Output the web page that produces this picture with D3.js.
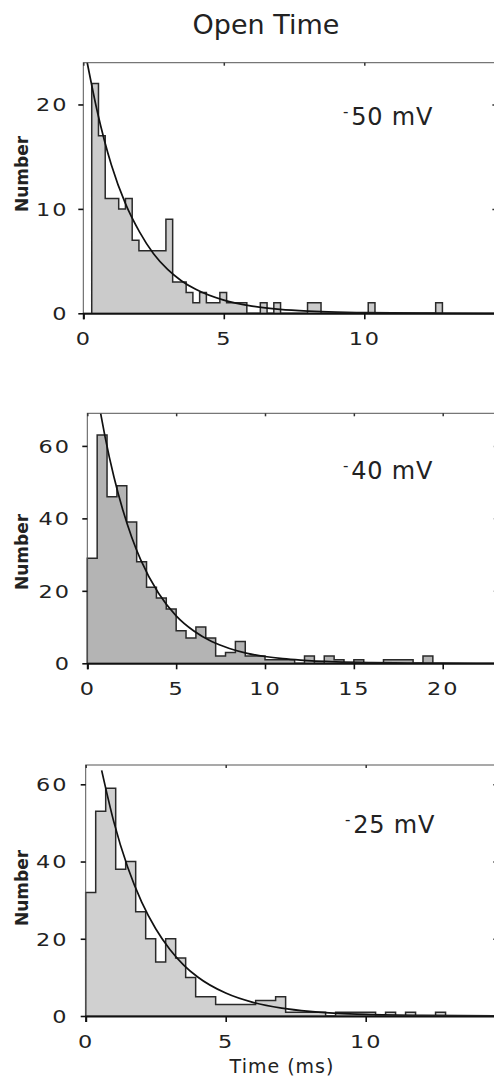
<!DOCTYPE html>
<html><head><meta charset="utf-8">
<script src="https://cdn.jsdelivr.net/npm/d3@7"></script>
<style>body{margin:0;background:#fff}svg{display:block}</style>
</head><body>
<svg id="chart" width="494" height="1078"></svg>
<script>
// ---------------- data ----------------
const titleText = "Open Time";
const yLabel = "Number";
const xLabel = "Time (ms)";
const voltageLabels = ["50 mV", "40 mV", "25 mV"];

// -50 mV histogram (counts per bin)
const binStart50 = 0.30;
const binWidth50 = 0.24;
const counts50 = [22,17,11,11,10,11,7,6,6,6,6,9,3,3,2,1,2,1,1,2,1,1,1,0,0,1,0,1,0,0,0,0,1,1,0,0,0,0,0,0,0,1,0,0,0,0,0,0,0,0,0,1];
const fitT50 = [0.14,0.5,1.0,1.5,2.0,2.5,3.0,3.5,4.0,5.0,6.0,7.0,8.0,9.0,10.0,12.0,14.7];
const fitN50 = [24.0,19.3,14.2,10.5,7.8,5.7,4.2,3.1,2.3,1.26,0.69,0.38,0.21,0.11,0.06,0.02,0.0];
const xTicks50 = [0,5,10];
const yTicks50 = [0,10,20];
const xMax50 = 14.7, yMax50 = 24;

// -40 mV histogram
const binStart40 = 0;
const binWidth40 = 0.5556;
const counts40 = [29,63,46,49,39,28,21,18,15,9,7,10,7,2,3,6,2,2,1,1,1,0,2,0,2,1,0,1,0,0,1,1,1,0,2];
const fitT40 = [0.75,1.0,1.5,2.0,2.5,3.0,4.0,5.0,6.0,7.0,8.0,9.0,10.0,11.0,12.0,14.0,16.0,18.0,20.0,23.0];
const fitN40 = [69,62.5,51.4,42.3,34.8,28.6,19.4,13.1,8.9,6.0,4.1,2.76,1.87,1.27,0.86,0.39,0.18,0.08,0.04,0.01];
const xTicks40 = [0,5,10,15,20];
const yTicks40 = [0,20,40,60];
const xMax40 = 23.1, yMax40 = 69;

// -25 mV histogram
const binStart25 = 0;
const binWidth25 = 0.357;
const counts25 = [32,53,59,38,40,27,20,14,20,15,10,5,5,3,3,3,3,4,4,5,1,1,1,1,0,1,1,1,1,0,1,0,1,0,0,1];
const fitT25 = [0.57,1.0,1.5,2.0,2.5,3.0,3.5,4.0,5.0,6.0,7.0,8.0,9.0,10.0,12.0,14.7];
const fitN25 = [63.6,50.4,38.5,29.5,22.6,17.3,13.2,10.1,5.93,3.47,2.03,1.19,0.70,0.41,0.14,0.03];
const xTicks25 = [0,5,10];
const yTicks25 = [0,20,40,60];
const xMax25 = 14.7, yMax25 = 65;

// ---------------- drawing ----------------
const svg = d3.select("#chart");
const FONT = "'DejaVu Sans', Verdana, sans-serif";
const SX = 1.28; // horizontal stretch for the plotter-like digits

svg.append("text")
  .attr("x", 266).attr("y", 34)
  .attr("text-anchor", "middle")
  .attr("font-family", FONT).attr("font-size", 27)
  .attr("fill", "#222")
  .text(titleText);

function drawPanel(p) {
  const x = d3.scaleLinear().domain([0, p.xMax]).range([p.left, p.right]);
  const y = d3.scaleLinear().domain([0, p.yMax]).range([p.bottom, p.top]);
  const g = svg.append("g");

  // histogram
  const pts = p.counts.map((c, i) => [p.binStart + i * p.binWidth, c]);
  const end = p.binStart + p.counts.length * p.binWidth;
  const areaPts = pts.concat([[end, p.counts[p.counts.length - 1]]]);
  g.append("path")
    .attr("d", d3.area().x(d => x(d[0])).y0(y(0)).y1(d => y(d[1])).curve(d3.curveStepAfter)(areaPts))
    .attr("fill", p.fill);
  const linePts = [[p.binStart, 0]].concat(pts).concat([[end, 0]]);
  g.append("path")
    .attr("d", d3.line().x(d => x(d[0])).y(d => y(d[1])).curve(d3.curveStepAfter)(linePts))
    .attr("fill", "none").attr("stroke", "#2a2a2a").attr("stroke-width", 1.5);

  // fit curve
  const fit = p.fitT.map((t, i) => [t, p.fitN[i]]);
  g.append("path")
    .attr("d", d3.line().x(d => x(d[0])).y(d => y(d[1])).curve(d3.curveMonotoneX)(fit))
    .attr("fill", "none").attr("stroke", "#111").attr("stroke-width", 1.7);

  // frame
  g.append("rect")
    .attr("x", p.left).attr("y", p.top)
    .attr("width", p.right - p.left).attr("height", p.bottom - p.top)
    .attr("fill", "none").attr("stroke", "#555").attr("stroke-width", 1);

  // bottom axis
  const bx = g.append("g").attr("transform", `translate(0,${p.bottom})`)
    .call(d3.axisBottom(x).tickValues(p.xTicks).tickSize(6).tickFormat(d3.format("d")));
  bx.select(".domain").attr("stroke", "#111").attr("stroke-width", 2);
  bx.selectAll(".tick line").attr("stroke", "#111").attr("stroke-width", 1.6);
  bx.selectAll(".tick text")
    .attr("font-family", FONT).attr("font-size", 17.5).attr("fill", "#222")
    .attr("letter-spacing", 1.5)
    .attr("y", 0).attr("dy", 0)
    .attr("transform", `translate(0,${p.xLabelOffset}) scale(${SX},1)`);

  // top axis (inward ticks)
  const tx = g.append("g").attr("transform", `translate(0,${p.top})`)
    .call(d3.axisTop(x).tickValues(p.xTicks).tickSize(-3).tickFormat(""));
  tx.select(".domain").remove();
  tx.selectAll(".tick line").attr("stroke", "#333").attr("stroke-width", 1.5);

  // left axis
  const ly = g.append("g").attr("transform", `translate(${p.left},0)`)
    .call(d3.axisLeft(y).tickValues(p.yTicks).tickSize(5).tickFormat(d3.format("d")));
  ly.select(".domain").remove();
  ly.selectAll(".tick line").attr("stroke", "#111").attr("stroke-width", 1.6);
  ly.selectAll(".tick text")
    .attr("font-family", FONT).attr("font-size", 17.5).attr("fill", "#222")
    .attr("letter-spacing", 1.5)
    .attr("x", -p.yLabelGap / SX).attr("dy", "0.36em")
    .attr("transform", `scale(${SX},1)`);

  // right axis (inward ticks)
  const ry = g.append("g").attr("transform", `translate(${p.right},0)`)
    .call(d3.axisRight(y).tickValues(p.yTicks.filter(v => v > 0)).tickSize(-4).tickFormat(""));
  ry.select(".domain").remove();
  ry.selectAll(".tick line").attr("stroke", "#333").attr("stroke-width", 1.5);

  // y label
  svg.append("text")
    .attr("transform", `translate(28,${p.yLabelY}) rotate(-90)`)
    .attr("text-anchor", "middle")
    .attr("font-family", FONT).attr("font-size", 17).attr("font-weight", "bold")
    .attr("fill", "#222")
    .text(yLabel);

  // voltage label with raised minus
  const vt = svg.append("text")
    .attr("x", p.vx).attr("y", p.vy)
    .attr("font-family", FONT).attr("font-size", 24).attr("fill", "#222")
    .attr("letter-spacing", 0.8);
  vt.append("tspan").attr("font-size", 15).attr("dy", -8).text("-");
  vt.append("tspan").attr("dy", 8).attr("dx", 2).text(p.vLabel);
}

drawPanel({counts: counts50, binStart: binStart50, binWidth: binWidth50,
  fitT: fitT50, fitN: fitN50, xTicks: xTicks50, yTicks: yTicks50,
  xMax: xMax50, yMax: yMax50, fill: "#cbcbcb",
  left: 83.3, right: 83.3 + xMax50 * 28.1, top: 62.7, bottom: 313.3,
  xLabelOffset: 32, yLabelGap: 15, yLabelY: 174, vx: 343, vy: 125, vLabel: voltageLabels[0]});

drawPanel({counts: counts40, binStart: binStart40, binWidth: binWidth40,
  fitT: fitT40, fitN: fitN40, xTicks: xTicks40, yTicks: yTicks40,
  xMax: xMax40, yMax: yMax40, fill: "#b4b4b4",
  left: 87.3, right: 87.3 + xMax40 * 17.77, top: 413.3, bottom: 663.3,
  xLabelOffset: 32, yLabelGap: 16.5, yLabelY: 552, vx: 343, vy: 479, vLabel: voltageLabels[1]});

drawPanel({counts: counts25, binStart: binStart25, binWidth: binWidth25,
  fitT: fitT25, fitN: fitN25, xTicks: xTicks25, yTicks: yTicks25,
  xMax: xMax25, yMax: yMax25, fill: "#d0d0d0",
  left: 85.7, right: 85.7 + xMax25 * 28.0, top: 765, bottom: 1016,
  xLabelOffset: 32, yLabelGap: 17.4, yLabelY: 888, vx: 345, vy: 833, vLabel: voltageLabels[2]});

svg.append("text")
  .attr("x", 282).attr("y", 1073)
  .attr("text-anchor", "middle")
  .attr("font-family", FONT).attr("font-size", 19).attr("fill", "#222")
  .attr("letter-spacing", 1)
  .text(xLabel);
</script>
</body></html>
